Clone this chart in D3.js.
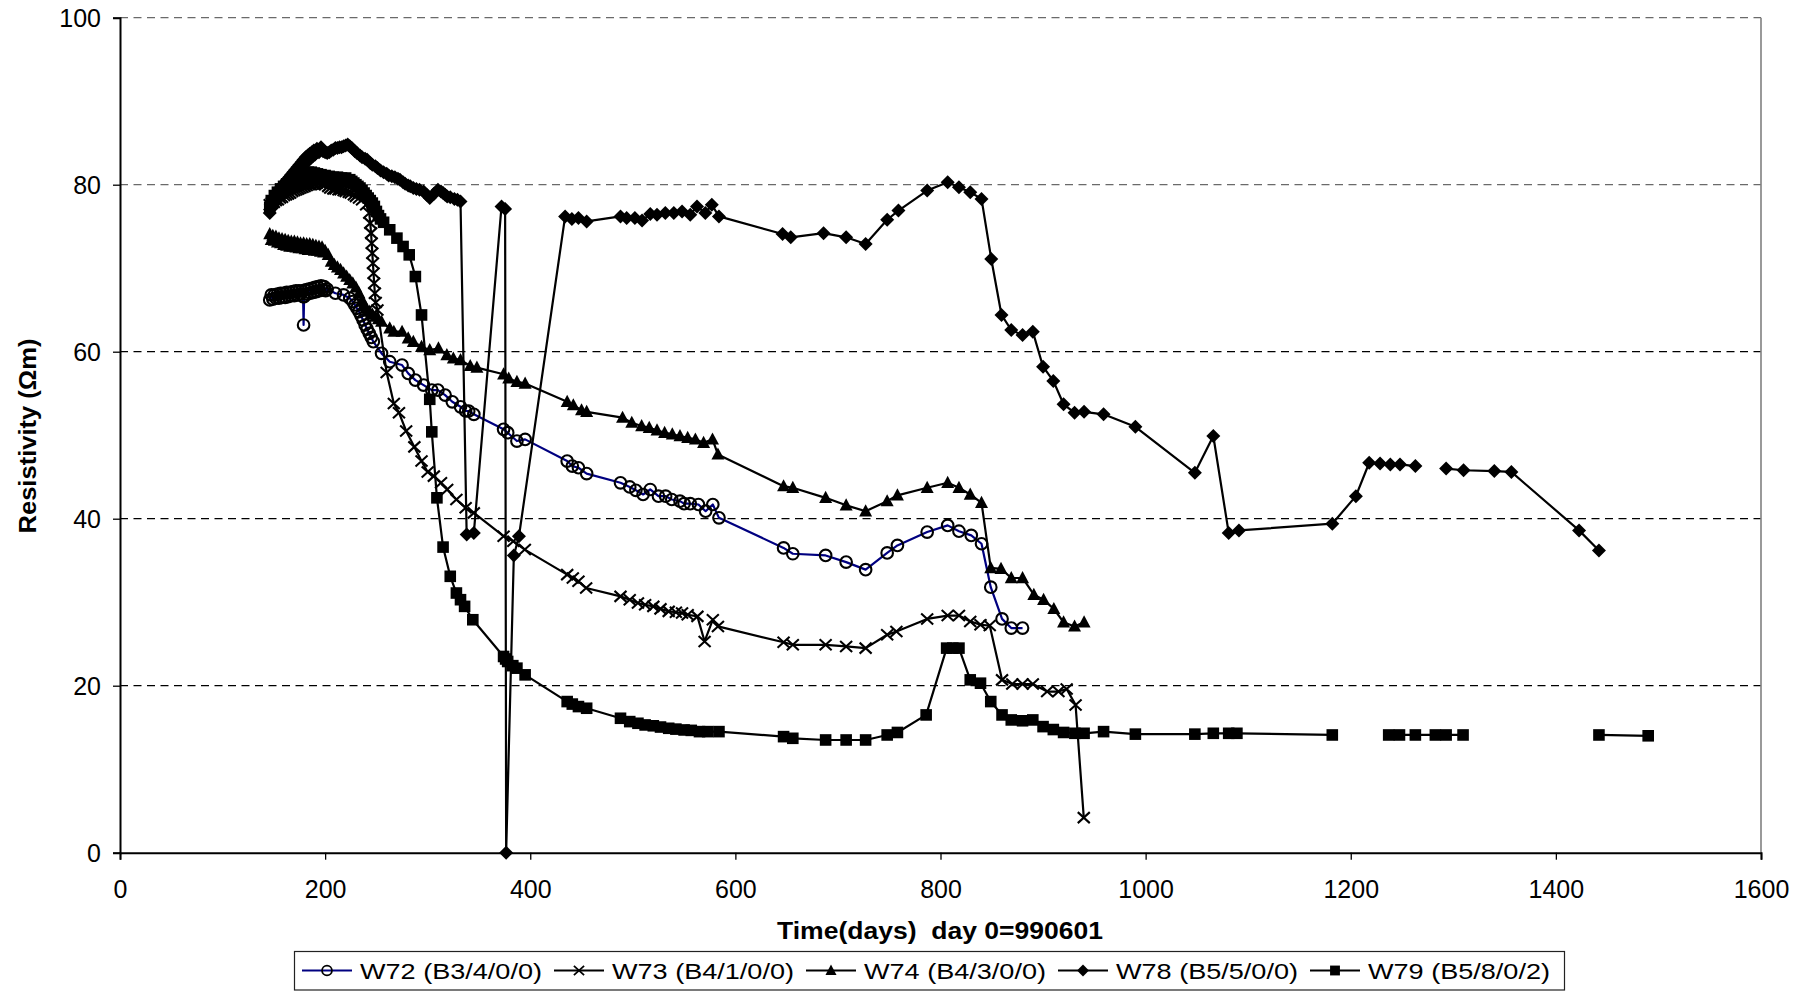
<!DOCTYPE html>
<html>
<head>
<meta charset="utf-8">
<script src="https://cdn.jsdelivr.net/npm/d3@7"></script>
<style>
  html, body { margin: 0; padding: 0; background: #fff; }
  svg { display: block; }
  text { font-family: "Liberation Sans", Arial, sans-serif; fill: #000; }
</style>
</head>
<body>
<svg id="chart" width="1811" height="992"></svg>
<script>
// ---------- data (day, resistivity Ωm); null = gap ----------
const xTicks = [0, 200, 400, 600, 800, 1000, 1200, 1400, 1600];
const yTicks = [0, 20, 40, 60, 80, 100];
const seriesNames = ["W72 (B3/4/0/0)", "W73 (B4/1/0/0)", "W74 (B4/3/0/0)", "W78 (B5/5/0/0)", "W79 (B5/8/0/2)"];

const w72 = [[146,66.2],[147.5,66.8],[149,66.3],[150.5,66.8],[152,66.4],[153.5,66.9],[155,66.4],[156.5,67.0],[158,66.5],[159.5,67.0],[161,66.5],[162.5,67.1],[164,66.6],[165.5,67.1],[167,66.7],[168.5,67.2],[170,66.7],[171.5,67.3],[173,66.8],[174.5,67.3],[176,66.9],[177.5,67.3],[178.5,66.6],[179,63.2],[179.5,66.6],
  [181,67.4],[182.5,66.9],[184,67.5],[185.5,67.0],[187,67.6],[188.5,67.1],[190,67.7],[191.5,67.2],[193,67.8],[194.5,67.3],[196,67.9],[197.5,67.4],[199,67.8],[200.5,67.3],[202,67.5],
  [210,67.0],[218,66.8],[224,66.4],[227,66.0],[229,65.6],[231,65.2],[233,64.8],[235,64.3],[237,63.8],[239,63.2],[241,62.7],[243,62.2],[245,61.7],[247,61.2],[255,59.8],[263,58.8],[275,58.4],[281,57.4],[288,56.6],[296,56.0],[304,55.4],[310,55.4],[317,54.8],[324,54.0],[332,53.4],[337,52.9],[340,52.9],[345,52.5],
  [374,50.7],[378,50.3],[387,49.3],[395,49.5],[436,46.9],[441,46.3],[447,46.1],[455,45.4],[488,44.3],[497,43.8],[503,43.4],[510,42.9],[517,43.5],[525,42.7],[532,42.7],[538,42.3],[546,42.1],[550,41.8],[556,41.8],[564,41.7],[571,40.9],[578,41.7],[584,40.1],
  [647,36.5],[656,35.8],[688,35.6],[708,34.8],[727,33.9],[748,35.9],[758,36.8],[787,38.4],[807,39.2],[818,38.5],[830,38.0],[840,37.0],[849,31.8],[860,28.0],[869,26.9],[880,26.9]];

const w73 = [[146,77.6],[148,77.8],[150,77.9],[152,78.1],[154,78.2],[156,78.4],[158,78.5],[160,78.7],[162,78.8],[164,78.9],[166,79.0],[168,79.2],[170,79.3],[172,79.4],[174,79.5],[176,79.6],[178,79.7],[180,79.8],[182,79.9],[184,80.0],[186,80.0],[188,80.1],[190,80.1],[192,80.2],[195,80.2],[198,80.1],[200,80.0],[203,79.8],[205,79.6],[208,79.5],[210,79.5],[213,79.4],[215,79.4],[218,79.3],[220,79.2],[223,79.1],[225,79.0],[228,78.8],[230,78.6],[233,78.4],[236,78.2],[240,77.6],
  [243,76.6],[244,75.4],[244.8,74.2],[245.4,73.0],[246,71.8],[246.6,70.6],[247.2,69.4],[247.8,68.2],[248.5,67.0],[249.3,65.9],[251,65.0],[260,57.5],[267,53.8],[272,52.7],[279,50.5],[287,48.6],[294,46.9],[300,45.6],[306,45.1],[313,44.3],[319,43.5],[328,42.3],[337,41.3],[345,40.7],
  [374,37.9],[383.5,37.3],[394.7,36.3],[436,33.3],[441.5,32.9],[447,32.5],[454.5,31.7],[488,30.7],[497,30.3],[505,29.9],[512,29.7],[520,29.5],[527,29.2],[535,28.9],[542,28.8],[548,28.7],[553.5,28.5],[563,28.3],[570,25.3],[578,27.9],[583,27.1],
  [647,25.2],[656,24.9],[688,24.9],[708,24.7],[727,24.5],[748,26.1],[757,26.5],[787,28.0],[807,28.4],[818,28.4],[829,27.7],[839,27.3],[848,27.2],[860,20.7],[870,20.2],[880,20.2],[890,20.2],[904,19.3],[915,19.3],[923,19.6],[931.7,17.7],[939.7,4.2]];

const w74 = [[146,74.1],[147.5,73.4],[149,73.9],[150.5,73.3],[152,73.8],[153.5,73.1],[155,73.6],[156.5,73.0],[158,73.5],[159.5,72.8],[161,73.4],[162.5,72.7],[164,73.3],[165.5,72.6],[167,73.2],[168.5,72.6],[170,73.2],[171.5,72.5],[173,73.1],[174.5,72.4],[176,73.0],[177.5,72.4],[179,73.0],[180.5,72.3],[182,72.9],[183.5,72.2],[185,72.9],[186.5,72.2],[188,72.8],[189.5,72.1],[191,72.7],[192.5,72.1],[194,72.6],[195.5,72.0],[197,72.5],[198.5,71.9],[200,72.1],
  [203,71.6],[206,70.8],[209,70.4],[212,70.1],[215,69.8],[218,69.4],[221,69.0],[224,68.6],[227,68.2],[230,67.7],[233,67.0],[236,66.2],[238,65.6],[240,65.2],[243,64.8],[246,64.5],[249,64.2],[252,63.9],[255,63.6],
  [263,62.8],[267,62.4],[275,62.4],[281,61.6],[286,61.2],[294,60.6],[302,60.2],[310.5,60.4],[318.7,59.6],[325,59.2],[332,59.0],[341.5,58.3],[348,58.1],[374,57.3],[379,56.8],[387,56.4],[395,56.2],[436,54.0],[442,53.6],[450,53.0],[455,52.8],
  [490,52.1],[499,51.5],[508.6,51.1],[516,50.9],[523.6,50.6],[531,50.3],[538.5,50.1],[546,49.9],[553.5,49.7],[561,49.5],[569,49.1],[577.7,49.5],[583,47.7],
  [647,43.9],[656,43.7],[688,42.5],[708,41.6],[727,40.9],[748,42.1],[758,42.8],[787,43.7],[807,44.3],[818,43.7],[829,42.9],[840,41.9],[849,34.1],[859,34.0],[869,32.9],[880,32.9],[891,30.9],[900.5,30.3],[910.5,29.2],[920,27.6],[930.7,27.1],[940,27.6]];

const w78 = [[146,76.6],[147,77.6],[148,77.2],[149,78.2],[150,77.7],[151,78.6],[152,78.1],[153,79.0],[154,78.5],[155,79.4],[156,78.9],[157,79.7],[158,79.2],[159,80.0],[160,79.5],[161,80.3],[162,79.8],[163,80.6],[164,80.1],[165,80.9],[166,80.4],[167,81.2],[168,80.7],[169,81.5],[170,81.0],[171,81.8],[172,81.3],[173,82.1],[174,81.6],[175,82.4],[176,81.9],[177,82.7],[178,82.2],[179,83.0],[180,82.5],[181,83.3],[182,82.7],[183,83.5],[184,83.0],[185,83.7],[186,83.2],[187,83.9],[188,83.4],[189,84.1],[190,83.6],[192,84.3],[194,83.9],[196,84.5],[198,84.0],[200,83.9],[202,83.8],[204,83.9],[206,84.1],[208,84.2],[210,84.4],[212,84.4],[214,84.5],[216,84.5],[218,84.6],[220,84.7],[222,84.8],[224,84.6],[226,84.4],
  [229,84.0],[231,83.8],[234,83.5],[236,83.3],[239,83.1],[241,83.0],[244,82.6],[246,82.4],[249,82.2],[251,82.0],[254,81.7],[257,81.5],[260,81.3],[262,81.1],[265,81.0],[268,80.9],[271,80.7],[273,80.6],[276,80.3],[278,80.1],[281,79.9],[283,79.8],[286,79.6],[289,79.5],[292,79.4],[296,79.2],[299,78.8],[302,78.4],[306,78.9],[310,79.4],[313,79.2],[315,79.0],[317,78.8],[319,78.6],[322,78.5],[326,78.3],[329,78.2],[332,78.0],
  [338,38.1],[345,38.3],[372,77.4],[375.5,77.1],[376.5,0],[384,35.6],[389,37.9],
  [434,76.2],[440.6,75.9],[447,76.0],[455,75.6],[488,76.2],[494,76.0],[502,76.0],[509,75.7],[517,76.5],[523.6,76.4],[531.7,76.6],[540,76.6],[548,76.8],[556,76.4],[562.6,77.4],[570.7,76.6],[577,77.6],[584,76.2],
  [646,74.1],[654,73.7],[686,74.2],[708,73.7],[727,72.9],[748,75.8],[759,76.9],[787,79.3],[807,80.3],[818,79.7],[829,79.1],[840,78.3],[849.5,71.1],[859.5,64.4],[869,62.6],[880,62.0],[890,62.4],[900,58.2],[910,56.5],[920,53.7],[930.7,52.7],[940,52.8],[959,52.5],[990,51.0],
  [1048,45.5],[1066,49.9],[1081,38.3],[1091,38.6],[1182,39.4],[1205,42.7],[1218,46.7],[1228.6,46.6],[1238.6,46.5],[1248,46.5],[1263,46.3],[1278,null],[1293,46.0],[1310,45.8],[1340,45.7],[1356.6,45.6],[1422.6,38.6],[1442,36.2]];

const w79 = [[146,77.3],[147.5,78.1],[149,77.9],[150.5,78.7],[152,78.3],[153.5,79.1],[155,78.7],[156.5,79.5],[158,79.0],[159.5,79.8],[161,79.3],[162.5,80.1],[164,79.6],[165.5,80.4],[167,79.9],[168.5,80.6],[170,80.2],[171.5,80.9],[173,80.4],[174.5,81.1],[176,80.6],[177.5,81.3],[179,80.7],[180.5,81.4],[182,80.8],[183.5,81.5],[185,80.9],[186.5,81.5],[188,80.9],[189.5,81.4],[191,80.8],[192.5,81.3],[194,80.7],[196,81.2],[198,80.6],[200,81.1],[202,80.6],[204,81.0],[206,80.5],[208,80.9],[210,80.5],[212,80.9],[214,80.4],[216,80.8],[218,80.4],[220,80.8],[222,80.4],[224,80.6],[226,80.4],[228,80.2],[230,80.0],[232,79.8],[234,79.6],[236,79.3],[238,79.0],[240,78.7],[242,78.4],[244,78.1],[246,77.8],[248,77.4],[250,76.8],[252,76.3],[254,75.9],
  [257,75.5],[263,74.6],[270,73.6],[276,72.6],[282,71.6],[288,69.0],[294,64.4],[302,54.3],[304,50.4],[309,42.5],[315,36.6],[322,33.1],[328,31.1],[332,30.3],[336,29.5],[344,27.9],[374,23.5],[376,23.2],[378,22.9],[383,22.4],[387,22.1],[395,21.3],[436,18.1],[441,17.8],[447,17.5],[455,17.3],
  [488,16.1],[497,15.7],[505,15.5],[512,15.3],[520,15.2],[527,15.05],[535,14.9],[542,14.8],[550,14.7],[557,14.65],[565,14.5],[573,14.5],[584,14.5],[647,13.9],[656,13.7],[688,13.5],[708,13.5],[727,13.5],[748,14.1],[758,14.4],[786,16.5],[806,24.5],[812,24.5],[818,24.5],[829,20.7],[839,20.3],[849,18.1],[860,16.5],[869,15.9],[880,15.8],[890,15.9],[900,15.1],[910,14.75],[920,14.4],[931,14.3],[940,14.3],[959,14.5],[990,14.2],
  [1048,14.2],[1066,14.3],[1081,14.3],[1089,14.3],[1182,14.1],[1210,null],[1237,14.1],[1247.5,14.1],[1263,14.1],[1282.5,14.1],[1293,14.1],[1309.5,14.1],[1380,null],[1442,14.1],[1490,14.0]];

// ---------- drawing ----------
const svg = d3.select("#chart");
const x = d3.scaleLinear().domain([0, 1600]).range([120, 1761]);
const y = d3.scaleLinear().domain([0, 100]).range([852.7, 17.7]);

// gridlines
svg.append("g").selectAll("line").data(yTicks.filter(t => t > 0)).join("line")
  .attr("x1", x(0)).attr("x2", x(1600))
  .attr("y1", d => y(d)).attr("y2", d => y(d))
  .attr("stroke", d => d >= 80 ? "#6a6a6a" : "#000")
  .attr("stroke-width", 1.2)
  .attr("stroke-dasharray", "8,5.5");

// right border
svg.append("line").attr("x1", x(1600)).attr("x2", x(1600)).attr("y1", y(100)).attr("y2", y(0))
  .attr("stroke", "#808080").attr("stroke-width", 1.6);

// axes
const xAxis = d3.axisBottom(x).tickValues(xTicks).tickSize(7).tickPadding(8).tickFormat(d3.format("d"));
const yAxis = d3.axisLeft(y).tickValues(yTicks).tickSize(7).tickPadding(12).tickFormat(d3.format("d"));
const gx = svg.append("g").attr("transform", `translate(0,${y(0)})`).call(xAxis);
const gy = svg.append("g").attr("transform", `translate(${x(0)},0)`).call(yAxis);
[gx, gy].forEach(g => {
  g.select(".domain").attr("stroke", "#000").attr("stroke-width", 2);
  g.selectAll(".tick line").attr("stroke", "#000").attr("stroke-width", 1.3);
  g.selectAll(".tick text").attr("font-size", 25).attr("font-family", '"Liberation Sans", Arial, sans-serif').attr("fill", "#000");
});
gx.selectAll(".tick text").attr("dy", null).attr("y", 45);
gy.selectAll(".tick text").attr("dy", "0.36em");

// axis titles
svg.append("text").attr("x", 940).attr("y", 939).attr("text-anchor", "middle")
  .attr("font-size", 23).attr("font-weight", "bold")
  .attr("textLength", 326).attr("lengthAdjust", "spacingAndGlyphs")
  .attr("xml:space", "preserve")
  .text("Time(days)  day 0=990601");
svg.append("text").attr("transform", "translate(36,436) rotate(-90)").attr("text-anchor", "middle")
  .attr("font-size", 23).attr("font-weight", "bold")
  .attr("textLength", 195).attr("lengthAdjust", "spacingAndGlyphs")
  .text("Resistivity (Ωm)");

// marker shapes
const markers = {
  circle: (g) => g.append("circle").attr("r", 5.8).attr("fill", "none").attr("stroke", "#000").attr("stroke-width", 2.1),
  cross: (g) => g.append("path").attr("d", "M-6,-5.5L6,5.5M-6,5.5L6,-5.5").attr("stroke", "#000").attr("stroke-width", 2.1).attr("fill", "none"),
  triangle: (g) => g.append("path").attr("d", "M0,-7L6.5,5.2L-6.5,5.2Z").attr("fill", "#000"),
  diamond: (g) => g.append("path").attr("d", "M0,-7L7,0L0,7L-7,0Z").attr("fill", "#000"),
  square: (g) => g.append("path").attr("d", "M-5.8,-5.8H5.8V5.8H-5.8Z").attr("fill", "#000")
};

const series = [
  { name: seriesNames[0], data: w72, color: "#000080", marker: "circle" },
  { name: seriesNames[1], data: w73, color: "#000", marker: "cross" },
  { name: seriesNames[2], data: w74, color: "#000", marker: "triangle" },
  { name: seriesNames[3], data: w78, color: "#000", marker: "diamond" },
  { name: seriesNames[4], data: w79, color: "#000", marker: "square" }
];

const line = d3.line().defined(d => d[1] != null).x(d => x(d[0])).y(d => y(d[1]));

series.forEach(s => {
  const g = svg.append("g");
  g.append("path").datum(s.data).attr("d", line)
    .attr("fill", "none").attr("stroke", s.color).attr("stroke-width", 2.2).attr("stroke-linejoin", "round");
  g.selectAll("g.pt").data(s.data.filter(d => d[1] != null)).join("g")
    .attr("class", "pt")
    .attr("transform", d => `translate(${x(d[0])},${y(d[1])})`)
    .each(function () { markers[s.marker](d3.select(this)); });
});

// legend
const leg = svg.append("g");
leg.append("rect").attr("x", 294.5).attr("y", 951.5).attr("width", 1270).attr("height", 38.5)
  .attr("fill", "#fff").attr("stroke", "#222").attr("stroke-width", 1.2);
series.forEach((s, i) => {
  const x0 = 302 + i * 252;
  const lg = leg.append("g");
  lg.append("line").attr("x1", x0).attr("x2", x0 + 50).attr("y1", 970.5).attr("y2", 970.5)
    .attr("stroke", s.color).attr("stroke-width", 2.2);
  const mg = lg.append("g").attr("transform", `translate(${x0 + 25},970.5) scale(0.85)`);
  markers[s.marker](mg);
  lg.append("text").attr("x", x0 + 58).attr("y", 978.5)
    .attr("font-size", 22).attr("textLength", 182).attr("lengthAdjust", "spacingAndGlyphs")
    .text(s.name);
});
</script>
</body>
</html>
